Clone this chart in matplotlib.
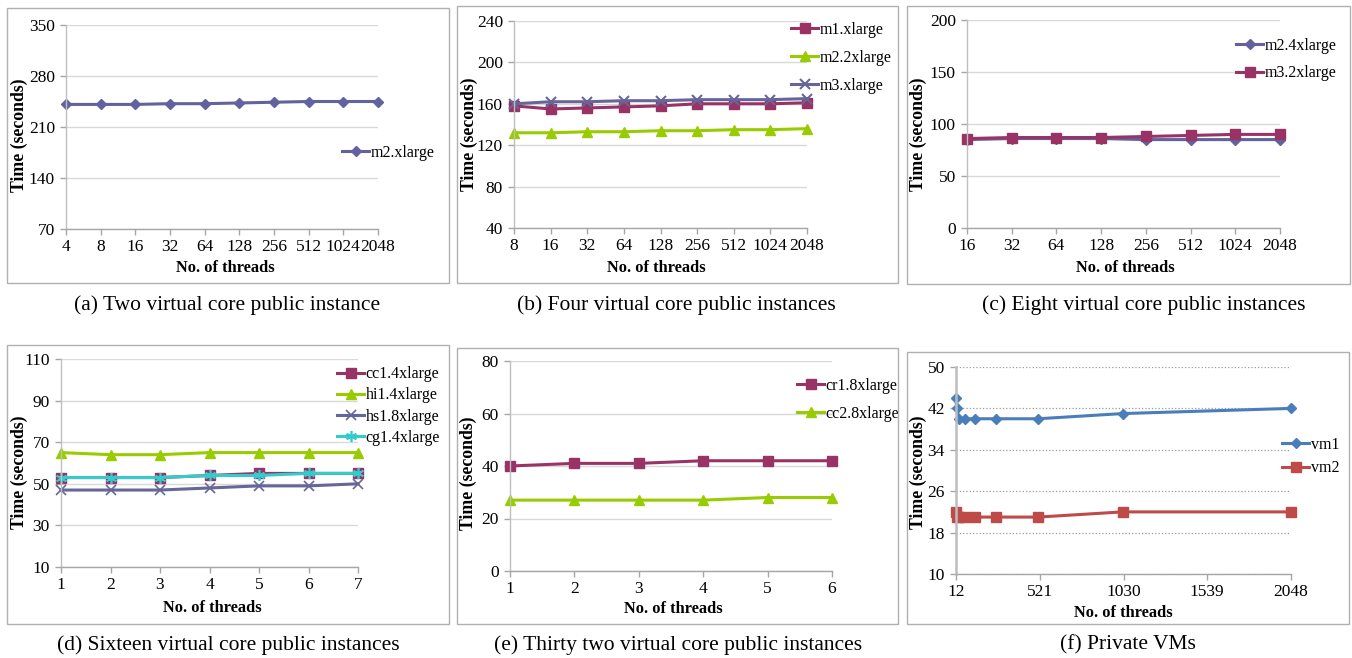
import matplotlib
matplotlib.use('Agg')
import matplotlib.pyplot as plt
from matplotlib.patches import Rectangle

plt.rcParams['font.family'] = ['Liberation Serif', 'DejaVu Serif']

# ---------------- data ----------------
a_threads = ['4', '8', '16', '32', '64', '128', '256', '512', '1024', '2048']
a_m2_xlarge = [241, 241, 241, 242, 242, 243, 244, 245, 245, 245]

b_threads = ['8', '16', '32', '64', '128', '256', '512', '1024', '2048']
b_m1_xlarge = [158, 155, 156, 157, 158, 160, 160, 160, 161]
b_m2_2xlarge = [132, 132, 133, 133, 134, 134, 135, 135, 136]
b_m3_xlarge = [160, 162, 162, 163, 163, 164, 164, 164, 165]

c_threads = ['16', '32', '64', '128', '256', '512', '1024', '2048']
c_m2_4xlarge = [85, 86, 86, 86, 85, 85, 85, 85]
c_m3_2xlarge = [86, 87, 87, 87, 88, 89, 90, 90]

d_threads = ['1', '2', '3', '4', '5', '6', '7']
d_cc1_4xlarge = [53, 53, 53, 54, 55, 55, 55]
d_hi1_4xlarge = [65, 64, 64, 65, 65, 65, 65]
d_hs1_8xlarge = [47, 47, 47, 48, 49, 49, 50]
d_cg1_4xlarge = [53, 53, 53, 54, 54, 55, 55]

e_threads = ['1', '2', '3', '4', '5', '6']
e_cr1_8xlarge = [40, 41, 41, 42, 42, 42]
e_cc2_8xlarge = [27, 27, 27, 27, 28, 28]

f_threads = [12, 16, 32, 64, 128, 256, 512, 1024, 2048]
f_vm1 = [44, 42, 40, 40, 40, 40, 40, 41, 42]
f_vm2 = [22, 21, 21, 21, 21, 21, 21, 22, 22]
f_xticks = [12, 521, 1030, 1539, 2048]

captions = ['(a) Two virtual core public instance',
            '(b) Four virtual core public instances',
            '(c) Eight virtual core public instances',
            '(d) Sixteen virtual core public instances',
            '(e) Thirty two virtual core public instances',
            '(f) Private VMs']

# ---------------- styles ----------------
PURPLE = '#62629e'
PLUM = '#993366'
GREEN = '#99cc00'
GREY_BLUE = '#666699'
CYAN = '#33cccc'
BLUE = '#4a7ebb'
RED = '#be4b48'

W, H = 1352, 658
fig = plt.figure(figsize=(W / 100, H / 100), dpi=100)

TICK_FS = 12.5
XLAB_FS = 11.8
YLAB_FS = 12.8
LEG_FS = 11.5
CAP_FS = 15.5


def ax_at(l, r, t, b):
    return fig.add_axes([l / W, 1 - b / H, (r - l) / W, (b - t) / H])


def fx(x):
    return x / W


def fy(y):
    return 1 - y / H


def box(l, r, t, b):
    fig.patches.append(Rectangle((fx(l), fy(b)), (r - l) / W, (b - t) / H,
                                 transform=fig.transFigure, fill=False,
                                 edgecolor='#b0b0b0', linewidth=1.0))


def style(ax, ylim, yticks, grid_ls='-'):
    ax.set_ylim(*ylim)
    ax.set_yticks(yticks)
    for s in ['top', 'right']:
        ax.spines[s].set_visible(False)
    ax.spines['left'].set_color('#bfbfbf')
    ax.spines['bottom'].set_color('#a6a6a6')
    ax.spines['left'].set_linewidth(1.0)
    ax.spines['bottom'].set_linewidth(1.0)
    ax.tick_params(axis='both', colors='#a6a6a6', labelcolor='black',
                   labelsize=TICK_FS, length=4, width=1, direction='out')
    ax.tick_params(axis='x', pad=3.5)
    ax.tick_params(axis='y', pad=4)
    ax.grid(axis='y', color='#d9d9d9', linewidth=1.0, linestyle=grid_ls)
    ax.set_axisbelow(True)
    ax.patch.set_alpha(0)


def cat_axis(ax, labels):
    n = len(labels)
    ax.set_xlim(0, n - 1)
    ax.set_xticks(range(n))
    ax.set_xticklabels(labels)


def labels(xl_x, xl_y, yl_x, yl_y):
    fig.text(fx(xl_x), fy(xl_y), 'No. of threads', ha='center', va='center',
             fontsize=XLAB_FS, fontweight='bold')
    fig.text(fx(yl_x), fy(yl_y), 'Time (seconds)', ha='center', va='center',
             rotation=90, fontsize=YLAB_FS, fontweight='bold')


def legend(ax, x, y, spacing):
    ax.legend(loc='center left', bbox_to_anchor=(fx(x), fy(y)),
              bbox_transform=fig.transFigure, frameon=False,
              handlelength=1.7, handletextpad=0.1, labelspacing=spacing,
              borderpad=0, borderaxespad=0, fontsize=LEG_FS, numpoints=1)


LW = 2.2

# ---------------- (a) ----------------
box(7, 449, 8, 283)
ax = ax_at(66, 378, 25, 229)
xa = range(len(a_threads))
ax.plot(xa, a_m2_xlarge, color=PURPLE, lw=LW, marker='D', ms=5.5,
        label='m2.xlarge', clip_on=False)
cat_axis(ax, a_threads)
style(ax, (70, 350), [70, 140, 210, 280, 350])
legend(ax, 342, 153, 0.8)
labels(225, 268, 19, 135)
fig.text(fx(227), fy(305), captions[0], ha='center', va='center', fontsize=CAP_FS)

# ---------------- (b) ----------------
box(457, 898, 6, 283)
ax = ax_at(514, 807, 21, 228)
xb = range(len(b_threads))
ax.plot(xb, b_m1_xlarge, color=PLUM, lw=LW, marker='s', ms=6.5,
        label='m1.xlarge', clip_on=False)
ax.plot(xb, b_m2_2xlarge, color=GREEN, lw=LW, marker='^', ms=7,
        label='m2.2xlarge', clip_on=False)
ax.plot(xb, b_m3_xlarge, color=GREY_BLUE, lw=LW, marker='x', ms=7.5, mew=1.5,
        label='m3.xlarge', clip_on=False)
cat_axis(ax, b_threads)
style(ax, (40, 240), [40, 80, 120, 160, 200, 240])
legend(ax, 791, 58, 0.75)
labels(656, 268, 469, 134)
fig.text(fx(676), fy(305), captions[1], ha='center', va='center', fontsize=CAP_FS)

# ---------------- (c) ----------------
box(907, 1350, 6, 284)
ax = ax_at(967, 1280, 20, 228)
xc = range(len(c_threads))
ax.plot(xc, c_m2_4xlarge, color=PURPLE, lw=LW, marker='D', ms=5.5,
        label='m2.4xlarge', clip_on=False)
ax.plot(xc, c_m3_2xlarge, color=PLUM, lw=LW, marker='s', ms=7,
        label='m3.2xlarge', clip_on=False)
cat_axis(ax, c_threads)
style(ax, (0, 200), [0, 50, 100, 150, 200])
legend(ax, 1236, 59.5, 0.7)
labels(1125, 268, 918, 134)
fig.text(fx(1144), fy(305), captions[2], ha='center', va='center', fontsize=CAP_FS)

# ---------------- (d) ----------------
box(7, 449, 345, 624)
ax = ax_at(61, 358, 359, 567)
xd = range(len(d_threads))
ax.plot(xd, d_cc1_4xlarge, color=PLUM, lw=LW, marker='s', ms=6.5,
        label='cc1.4xlarge', clip_on=False)
ax.plot(xd, d_hi1_4xlarge, color=GREEN, lw=LW, marker='^', ms=7,
        label='hi1.4xlarge', clip_on=False)
ax.plot(xd, d_hs1_8xlarge, color=GREY_BLUE, lw=LW, marker='x', ms=7, mew=1.2,
        label='hs1.8xlarge', clip_on=False)
ax.plot(xd, d_cg1_4xlarge, color=CYAN, lw=LW, marker=(6, 2, 0), ms=8, mew=1.2,
        label='cg1.4xlarge', clip_on=False)
cat_axis(ax, d_threads)
style(ax, (10, 110), [10, 30, 50, 70, 90, 110])
legend(ax, 337, 406, 0.32)
labels(212, 608, 19, 472)
fig.text(fx(228), fy(645), captions[3], ha='center', va='center', fontsize=CAP_FS)

# ---------------- (e) ----------------
box(457, 898, 348, 624)
ax = ax_at(510, 832, 361, 571)
xe = range(len(e_threads))
ax.plot(xe, e_cr1_8xlarge, color=PLUM, lw=LW, marker='s', ms=6.5,
        label='cr1.8xlarge', clip_on=False)
ax.plot(xe, e_cc2_8xlarge, color=GREEN, lw=LW, marker='^', ms=7,
        label='cc2.8xlarge', clip_on=False)
cat_axis(ax, e_threads)
style(ax, (0, 80), [0, 20, 40, 60, 80])
legend(ax, 797, 400, 0.75)
labels(673, 609, 468, 473)
fig.text(fx(678), fy(645), captions[4], ha='center', va='center', fontsize=CAP_FS)

# ---------------- (f) ----------------
box(907, 1349, 352, 624)
ax = ax_at(956, 1291, 367, 574)
ax.plot(f_threads, f_vm1, color=BLUE, lw=LW, marker='D', ms=5.5,
        label='vm1', clip_on=False)
ax.plot(f_threads, f_vm2, color=RED, lw=LW, marker='s', ms=7.5,
        label='vm2', clip_on=False)
ax.set_xlim(12, 2048)
ax.set_xticks(f_xticks)
style(ax, (10, 50), [10, 18, 26, 34, 42, 50], grid_ls=':')
ax.grid(axis='y', color='#9a9a9a', linewidth=0.9, linestyle=':')
ax.spines['left'].set_color('#bdbdbd')
ax.spines['left'].set_linewidth(1.8)
legend(ax, 1282, 456.5, 0.5)
labels(1123, 613, 918, 472)
fig.text(fx(1128), fy(645), captions[5], ha='center', va='center', fontsize=CAP_FS)

fig.savefig('out.png', dpi=100)
